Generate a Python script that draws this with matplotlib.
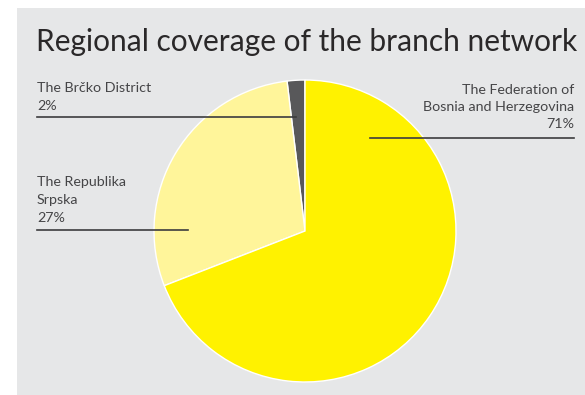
import matplotlib
matplotlib.use("Agg")
import matplotlib.pyplot as plt
from matplotlib.patches import Rectangle
from matplotlib.lines import Line2D

plt.rcParams['font.family'] = ['Lato', 'DejaVu Sans']

# data
regions = ["The Brčko District", "The Republika\nSrpska",
           "The Federation of\nBosnia and Herzegovina"]
shares = [2, 27, 71]              # printed percentages
wedge_sizes = [1.9, 29.0, 69.1]   # slice sizes as drawn in the original
colors = ["#58585a", "#fff59a", "#fff200"]

W, H = 585, 395
fig = plt.figure(figsize=(W / 100, H / 100), dpi=100, facecolor="white")


def fx(x):
    return x / W


def fy(y):
    return 1 - y / H


# grey panel
fig.patches.append(Rectangle((fx(17), 0), 1 - fx(17), fy(8), transform=fig.transFigure,
                             facecolor="#e6e7e8", edgecolor="none", zorder=-5))

fig.text(fx(36), fy(42), "Regional coverage of the branch network", fontsize=21.5,
         color="#2a2829", va="center", ha="left")

# pie
cx, cy, r = 305, 231, 151
ax = fig.add_axes([fx(cx - r), fy(cy + r), 2 * r / W, 2 * r / H], zorder=2)
ax.pie(wedge_sizes, colors=colors, startangle=90, counterclock=True,
       wedgeprops=dict(edgecolor="white", linewidth=1.0))
ax.set_xlim(-1, 1)
ax.set_ylim(-1, 1)
ax.set_aspect("equal")
ax.axis("off")

txt = dict(fontsize=10.3, color="#454547", linespacing=1.55, zorder=3)
rule = dict(color="#3c3c3e", lw=1.2, zorder=3)

# labels with leader rules
fig.text(fx(37), fy(97), f"{regions[0]}\n{shares[0]}%", ha="left", va="center", **txt)
fig.add_artist(Line2D([fx(37), fx(296)], [fy(117), fy(117)], **rule))

fig.text(fx(37), fy(200), f"{regions[1]}\n{shares[1]}%", ha="left", va="center", **txt)
fig.add_artist(Line2D([fx(37), fx(188)], [fy(230), fy(230)], **rule))

fig.text(fx(574), fy(107), f"{regions[2]}\n{shares[2]}%", ha="right", va="center",
         multialignment="right", **txt)
fig.add_artist(Line2D([fx(370), fx(574)], [fy(138), fy(138)], **rule))

fig.savefig("out.png", dpi=100, facecolor="white")
